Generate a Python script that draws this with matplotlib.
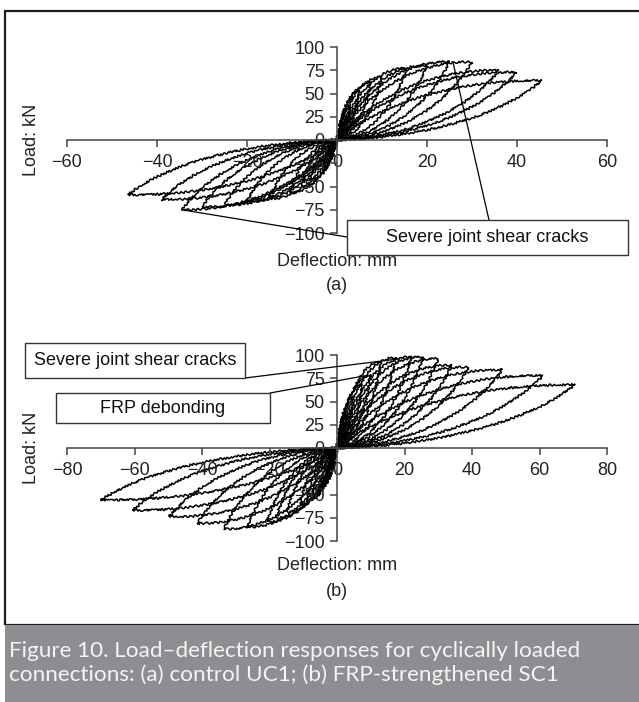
import matplotlib.pyplot as plt
from matplotlib.path import Path
from matplotlib.patches import PathPatch, Rectangle

plt.rcParams['font.family'] = ['Liberation Sans', 'DejaVu Sans']

# (a) control UC1 -- loop tips (mm, kN)
a_pos_disp = [1.5, 3, 5, 7.5, 10, 15.5, 20, 25, 30, 36, 40, 45.5]
a_pos_load = [18, 35, 53, 62, 68, 77, 80, 84, 84, 75, 73, 64]
a_neg_disp = [-1.5, -3, -6, -8, -10.5, -15, -20, -25, -30, -34.5, -39, -46.5]
a_neg_load = [-15, -28, -43, -50, -57, -63, -66, -70, -72, -75, -64, -59]

# (b) FRP-strengthened SC1
b_pos_disp = [1.5, 3, 5, 7.5, 10, 13, 17.5, 22, 25.5, 30, 34, 39, 49, 61, 70.5]
b_pos_load = [15, 35, 55, 68, 78, 92, 97, 98, 98, 96, 89, 87, 84, 78, 68]
b_neg_disp = [-1.5, -3, -5, -7.5, -9, -11, -14.8, -18, -20.7, -26.6, -33.5, -41.4, -49.8, -60.6, -70]
b_neg_load = [-15, -30, -42, -52, -57, -61, -68.5, -75, -79, -85, -87, -81, -74, -67, -56]

a_xticks = [-60, -40, -20, 0, 20, 40, 60]
b_xticks = [-80, -60, -40, -20, 0, 20, 40, 60, 80]
yticks = [-100, -75, -50, -25, 0, 25, 50, 75, 100]

# points the callouts lead to
a_crack_pos = (25.8, 83)
a_crack_neg = (-34.5, -75)
b_crack = (16.5, 95)
b_frp = (8.8, 78)

caption = ("Figure 10. Load\u2013deflection responses for cyclically loaded\n"
           "connections: (a) control UC1; (b) FRP-strengthened SC1")

W, H = 639, 702
fig = plt.figure(figsize=(W / 100, H / 100), dpi=100)
FS = 13


def fx(x):
    return x / W


def fy(y):
    return 1 - y / H


def leaf(dx, f):
    # pinched loop: outer (loading) edge out to the tip, inner edge back to origin
    verts = [(0, 0), (0.18 * dx, 0.55 * f), (0.55 * dx, 1.02 * f), (dx, f),
             (0.82 * dx, 0.45 * f), (0.45 * dx, 0.04 * f), (0, 0)]
    codes = [Path.MOVETO] + [Path.CURVE4] * 6
    return Path(verts, codes)


def setup(ax, xlim, xticks):
    ax.set_xlim(xlim)
    ax.set_ylim(-100, 100)
    ax.patch.set_visible(False)
    for s in ['top', 'right']:
        ax.spines[s].set_visible(False)
    for s in ['left', 'bottom']:
        ax.spines[s].set_position(('data', 0))
        ax.spines[s].set_color('#444444')
        ax.spines[s].set_linewidth(1.1)
    ax.set_xticks(xticks)
    ax.set_yticks(yticks)
    ax.tick_params(axis='both', direction='out', length=5, width=1.1,
                   color='#444444', labelsize=FS, labelcolor='#222222')
    ax.tick_params(axis='x', pad=5)
    ax.tick_params(axis='y', pad=4)


def loops(ax, disp, load):
    for d, f in zip(disp, load):
        p = PathPatch(leaf(d, f), fill=False, lw=1.1, ec='black')
        p.set_sketch_params(1.0, 4.0, 3.0)
        ax.add_patch(p)


def callout(ax, target, start):
    ax.annotate('', xy=target, xycoords='data',
                xytext=(fx(start[0]), fy(start[1])), textcoords='figure fraction',
                arrowprops=dict(arrowstyle='-', lw=0.9, color='black',
                                shrinkA=0, shrinkB=0))


def box(x0, y0, x1, y1, text):
    fig.patches.append(Rectangle((fx(x0), fy(y1)), fx(x1 - x0), fy(y0) - fy(y1),
                                 transform=fig.transFigure, fc='white',
                                 ec='#333333', lw=1.0, zorder=5))
    fig.text(fx((x0 + x1) / 2), fy((y0 + y1) / 2), text, fontsize=FS,
             ha='center', va='center', color='#111111', zorder=6)


# frame and caption band
fig.patches.append(Rectangle((fx(5), fy(625)), 1.2, fy(11) - fy(625),
                             transform=fig.transFigure, fill=False,
                             lw=1.6, ec='#1e1e1e'))
fig.patches.append(Rectangle((fx(5), 0), 1.2, fy(625), transform=fig.transFigure,
                             fc='#8d8e91', ec='none'))
fig.text(fx(9), fy(663), caption, fontsize=16.2, family=['Lato', 'DejaVu Sans'],
         color='#f4f4f4', ha='left', va='center', linespacing=1.22)

# (a)
ax_a = fig.add_axes([fx(67), fy(233), fx(540), 186 / H])
setup(ax_a, (-60, 60), a_xticks)
loops(ax_a, a_pos_disp, a_pos_load)
loops(ax_a, a_neg_disp, a_neg_load)
callout(ax_a, a_crack_pos, (489, 220))
callout(ax_a, a_crack_neg, (347, 237))
box(347, 220, 628, 255, 'Severe joint shear cracks')
fig.text(fx(31), fy(140), 'Load: kN', rotation=90, fontsize=FS,
         ha='center', va='center', color='#222222')
fig.text(fx(337), fy(261), 'Deflection: mm', fontsize=FS, ha='center', va='center',
         color='#222222')
fig.text(fx(337), fy(286), '(a)', fontsize=FS, ha='center', va='center',
         color='#222222')

# (b)
ax_b = fig.add_axes([fx(67), fy(541), fx(540), 186 / H])
setup(ax_b, (-80, 80), b_xticks)
loops(ax_b, b_pos_disp, b_pos_load)
loops(ax_b, b_neg_disp, b_neg_load)
callout(ax_b, b_crack, (245, 378))
callout(ax_b, b_frp, (270, 393))
box(25, 343, 245, 378, 'Severe joint shear cracks')
box(56, 393, 270, 423, 'FRP debonding')
fig.text(fx(31), fy(448), 'Load: kN', rotation=90, fontsize=FS,
         ha='center', va='center', color='#222222')
fig.text(fx(337), fy(566), 'Deflection: mm', fontsize=FS, ha='center', va='center',
         color='#222222')
fig.text(fx(337), fy(591), '(b)', fontsize=FS, ha='center', va='center',
         color='#222222')

fig.savefig('out.png', dpi=100)
